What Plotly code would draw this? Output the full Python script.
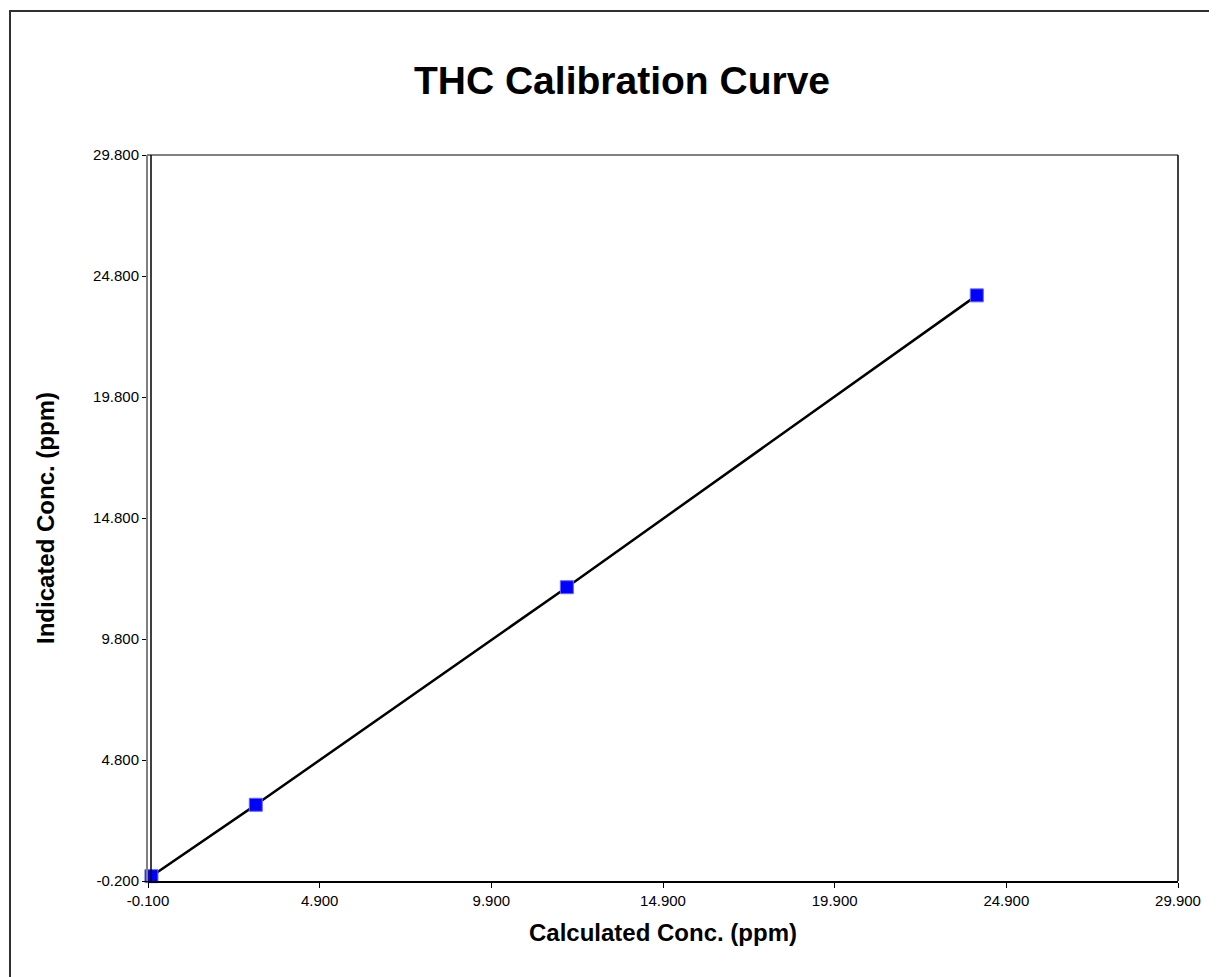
import plotly.graph_objects as go

# Data
calculated_ppm = [0.0, 3.04, 12.10, 24.04]
indicated_ppm = [0.0, 2.95, 11.94, 24.00]

x_ticks = [-0.1, 4.9, 9.9, 14.9, 19.9, 24.9, 29.9]
y_ticks = [-0.2, 4.8, 9.8, 14.8, 19.8, 24.8, 29.8]

OFF = 8  # default page body margin
W, H = 1217 - OFF, 977 - OFF
# target pixel positions in the screenshot
L_s, R_s, T_s, B_s = 148, 1178, 155, 881
L, R, T, B = L_s - OFF, R_s - OFF, T_s - OFF, B_s - OFF

fig = go.Figure()
fig.add_trace(go.Scatter(
    x=calculated_ppm, y=indicated_ppm, mode="lines",
    line=dict(color="black", width=2.5), showlegend=False, hoverinfo="skip"))
fig.add_trace(go.Scatter(
    x=calculated_ppm, y=indicated_ppm, mode="markers",
    marker=dict(symbol="square", size=13, color="#0000FF",
                line=dict(color="#6666FF", width=1)),
    showlegend=False, cliponaxis=False))


def px(xs):
    """screenshot x pixel -> paper x"""
    return (xs - L_s) / (R_s - L_s)


def py(ys):
    """screenshot y pixel -> paper y"""
    return (B_s - ys) / (B_s - T_s)


fig.update_layout(
    width=W, height=H,
    margin=dict(l=L, r=W - R, t=T, b=H - B),
    paper_bgcolor="white", plot_bgcolor="white",
    font=dict(family="Liberation Sans, Arial, sans-serif", color="black"),
    title=dict(text="<b>THC Calibration Curve</b>", x=(622 - OFF) / W, xanchor="center",
               y=1 - (80 - OFF) / H, yanchor="middle",
               font=dict(size=39, family="Liberation Sans, Arial, sans-serif", color="black")),
    xaxis=dict(range=[-0.1, 29.9], tickvals=x_ticks,
               ticktext=[f"{v:.3f}" for v in x_ticks],
               showgrid=False, zeroline=False, showline=True, linecolor="black", linewidth=1.5,
               ticks="outside", ticklen=5, tickcolor="black",
               tickfont=dict(size=15),
               title=dict(text="<b>Calculated Conc. (ppm)</b>", font=dict(size=24), standoff=16)),
    yaxis=dict(range=[-0.2, 29.8], tickvals=y_ticks,
               ticktext=[f"{v:.3f}" for v in y_ticks],
               showgrid=False, zeroline=False, showline=False,
               ticks="outside", ticklen=5, tickcolor="black",
               tickfont=dict(size=15),
               title=dict(text="<b>Indicated Conc. (ppm)</b>", font=dict(size=24), standoff=31)),
    shapes=[
        # plot-area border (gray top and left, black right)
        dict(type="line", xref="paper", yref="paper", x0=px(147), x1=px(1178), y0=1, y1=1,
             line=dict(color="#808080", width=2)),
        dict(type="line", xref="paper", yref="paper", x0=px(147), x1=px(147), y0=0, y1=1,
             line=dict(color="#808080", width=2)),
        dict(type="line", xref="paper", yref="paper", x0=px(1178), x1=px(1178), y0=0, y1=1,
             line=dict(color="black", width=1.5)),
        # y axis line
        dict(type="line", xref="paper", yref="paper", x0=px(151), x1=px(151), y0=0, y1=1,
             line=dict(color="black", width=1.5)),
        # outer chart border
        dict(type="rect", xref="paper", yref="paper",
             x0=px(10), x1=px(1240), y0=py(11), y1=py(1000),
             line=dict(color="#303030", width=2)),
    ],
)

fig.write_html("out.html")
